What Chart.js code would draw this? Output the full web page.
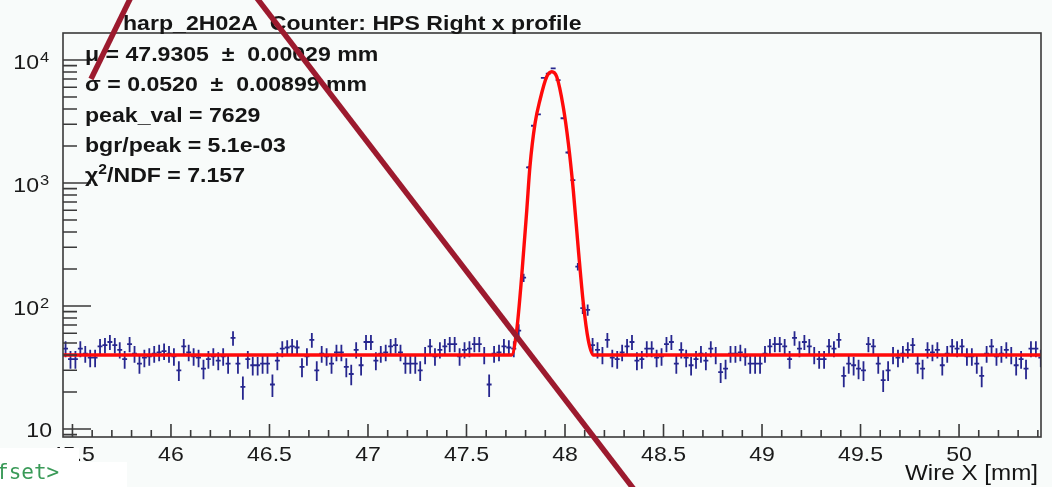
<!DOCTYPE html>
<html>
<head>
<meta charset="utf-8">
<script src="https://cdn.jsdelivr.net/npm/chart.js@4.4.1/dist/chart.umd.min.js"></script>
<style>
  body { margin: 0; background: #f8fbfa; }
  #wrap { position: relative; width: 1052px; height: 487px; overflow: hidden;
          font-family: "Liberation Sans", Arial, Helvetica, sans-serif; color: #151515; }
  #wrap canvas { position: absolute; left: 0; top: 0; }
  .txt { position: absolute; white-space: pre; line-height: 1; transform: scaleX(1.1); transform-origin: 0 0; }
  #title { left: 123px; top: 12px; font-size: 21px; font-weight: bold; }
  #stats { left: 85px; top: 39px; font-size: 21px; font-weight: bold; line-height: 30.3px; }
  #stats sup { font-size: 0.68em; line-height: 0; vertical-align: 0.55em; }
  #xtitle { left: 905px; top: 462px; font-size: 22px; }
  .mask { position: absolute; background: #ffffff; }
  #term { position: absolute; left: -4px; top: 462px; font-family: "DejaVu Sans Mono", monospace;
          font-size: 21px; color: #3a9a58; line-height: 1; }
  svg { position: absolute; left: 0; top: 0; }
</style>
</head>
<body>
<div id="wrap">
  <canvas id="harp" width="1052" height="487"></canvas>
  <div id="title" class="txt">harp_2H02A  Counter: HPS Right x profile</div>
  <div id="stats" class="txt">μ = 47.9305  ±  0.00029 mm
σ = 0.0520  ±  0.00899 mm
peak_val = 7629
bgr/peak = 5.1e-03
χ<sup>2</sup>/NDF = 7.157</div>
  <div id="xtitle" class="txt">Wire X [mm]</div>
  <div class="mask" style="left:0;top:448px;width:79px;height:14px"></div>
  <div class="mask" style="left:0;top:462px;width:127px;height:25px"></div>
  <div id="term">fset&gt;</div>
  <svg width="1052" height="487">
    <line x1="131" y1="-3" x2="91" y2="79" stroke="#9c1a2e" stroke-width="5.5"/>
    <line x1="256" y1="-3" x2="636" y2="492" stroke="#9c1a2e" stroke-width="5.5"/>
  </svg>
</div>
<script>
// histogram: counts per wire bin (bin centres start at binFirst, step binWidth)
const binFirst = 45.465;
const binWidth = 0.025;
const counts = [
  45, 37, 37, 45, 41, 38, 38, 47, 48, 51,
  48, 44, 37, 49, 41, 34, 38, 39, 41, 42,
  43, 41, 39, 30, 47, 42, 39, 38, 31, 37,
  39, 36, 39, 34, 55, 34, 22, 37, 33, 33,
  34, 34, 23, 36, 45, 46, 47, 46, 32, 39,
  53, 30, 41, 39, 34, 42, 42, 32, 28, 44,
  33, 51, 51, 36, 41, 42, 47, 48, 42, 34,
  34, 34, 30, 40, 47, 39, 44, 47, 49, 49,
  39, 44, 45, 49, 49, 40, 23, 41, 42, 47,
  46, 45, 63, 170, 1340, 2920, 3610, 7160, 7750, 8550,
  6860, 3360, 1770, 1055, 209, 96, 93, 48, 44, 40,
  53, 38, 37, 42, 47, 51, 36, 37, 45, 45,
  38, 39, 49, 51, 34, 44, 38, 33, 37, 41,
  36, 45, 40, 29, 31, 41, 41, 42, 39, 34,
  34, 34, 41, 47, 49, 49, 47, 37, 55, 45,
  51, 47, 40, 37, 37, 47, 45, 53, 27, 34,
  33, 31, 30, 49, 47, 34, 25, 30, 40, 38,
  41, 44, 48, 34, 31, 44, 42, 44, 33, 41,
  47, 45, 47, 39, 39, 34, 27, 41, 47, 39,
  41, 44, 40, 33, 37, 31, 45, 45, 38
];

// fit curve (gaus + bgr)
const fitX = [45.452, 47.729, 47.755, 47.780, 47.806, 47.822, 47.848, 47.873, 47.907, 47.933,
              47.958, 47.991, 48.017, 48.042, 48.068, 48.093, 48.118, 48.144, 50.416];
const fitY = [40, 40, 64, 173, 603, 1358, 3055, 4730, 7310, 8030,
              7310, 4170, 2100, 877, 285, 105, 53, 40, 40];

// axis ticks
const xTickValues = [45.5, 46, 46.5, 47, 47.5, 48, 48.5, 49, 49.5, 50];
const xTickLabels = ['45.5', '46', '46.5', '47', '47.5', '48', '48.5', '49', '49.5', '50'];
const yTickValues = [10, 100, 1000, 10000];
const yTickExps = ['', '2', '3', '4'];

const X_MIN = 45.452, X_MAX = 50.416;
const Y_MIN = 8.61, Y_MAX = 16580;

function wideText(ctx, str, x, y, align) {
    // ROOT text in the screenshot is a bit stretched sideways
    ctx.save();
    ctx.translate(x, y);
    ctx.scale(1.1, 1);
    ctx.textAlign = align;
    ctx.fillText(str, 0, 0);
    ctx.restore();
}

const errorBars = {
    id: 'errorBars',
    beforeDatasetsDraw(chart) {
        const { ctx, chartArea, scales: { x, y } } = chart;
        const pts = chart.data.datasets[0].data;
        ctx.save();
        ctx.beginPath();
        ctx.rect(chartArea.left, chartArea.top, chartArea.width, chartArea.height);
        ctx.clip();
        ctx.strokeStyle = '#26268e';
        ctx.lineWidth = 1.8;
        ctx.beginPath();
        pts.forEach(p => {
            const e = Math.sqrt(p.y);
            const px = x.getPixelForValue(p.x);
            const py = y.getPixelForValue(p.y);
            ctx.moveTo(x.getPixelForValue(p.x - binWidth / 2), py);
            ctx.lineTo(x.getPixelForValue(p.x + binWidth / 2), py);
            ctx.moveTo(px, y.getPixelForValue(p.y + e));
            ctx.lineTo(px, y.getPixelForValue(Math.max(p.y - e, 0.5)));
        });
        ctx.stroke();
        ctx.restore();
    }
};

const rootFrame = {
    id: 'rootFrame',
    afterDraw(chart) {
        const { ctx, chartArea: a, scales: { x, y } } = chart;
        ctx.save();
        ctx.strokeStyle = '#3a3a3a';
        ctx.fillStyle = '#1a1a1a';
        ctx.lineWidth = 1.6;
        ctx.strokeRect(a.left, a.top, a.width, a.height);

        ctx.beginPath();
        // x ticks: major every 0.5, minor every 0.1, pointing up into the frame
        for (let k = Math.ceil(X_MIN * 10); k <= Math.floor(X_MAX * 10); k++) {
            const px = x.getPixelForValue(k / 10);
            const len = (k % 5 === 0) ? 13 : 7;
            ctx.moveTo(px, a.bottom);
            ctx.lineTo(px, a.bottom - len);
        }
        // y ticks: decades long, 2..9 short
        for (let d = 0; d <= 4; d++) {
            for (let m = 1; m <= 9; m++) {
                const v = m * Math.pow(10, d);
                if (v < Y_MIN || v > Y_MAX) continue;
                const py = y.getPixelForValue(v);
                ctx.moveTo(a.left, py);
                ctx.lineTo(a.left + (m === 1 ? 28 : 14), py);
            }
        }
        ctx.stroke();

        ctx.textBaseline = 'alphabetic';
        ctx.font = '21px "Liberation Sans", Arial, sans-serif';
        xTickValues.forEach((v, i) => {
            wideText(ctx, xTickLabels[i], x.getPixelForValue(v), 461, 'center');
        });
        yTickValues.forEach((v, i) => {
            const py = y.getPixelForValue(v);
            ctx.font = '21px "Liberation Sans", Arial, sans-serif';
            if (yTickExps[i] === '') {
                wideText(ctx, '10', 52, py + 8, 'right');
            } else {
                wideText(ctx, '10', 39, py + 9, 'right');
                ctx.font = '15px "Liberation Sans", Arial, sans-serif';
                wideText(ctx, yTickExps[i], 40, py + 2, 'left');
            }
        });
        ctx.restore();
    }
};

document.addEventListener('DOMContentLoaded', function () {
    const ctx = document.getElementById('harp').getContext('2d');
    const histPoints = counts.map((n, i) => ({ x: binFirst + i * binWidth, y: n }));
    const fitPoints = fitX.map((v, i) => ({ x: v, y: fitY[i] }));

    new Chart(ctx, {
        type: 'scatter',
        data: {
            datasets: [{
                label: 'Counter',
                data: histPoints,
                pointRadius: 0,
                showLine: false
            }, {
                label: 'fit',
                data: fitPoints,
                showLine: true,
                borderColor: '#ff0a0a',
                borderWidth: 3.4,
                pointRadius: 0,
                cubicInterpolationMode: 'monotone'
            }]
        },
        options: {
            responsive: false,
            animation: false,
            devicePixelRatio: 1,
            layout: { padding: { left: 63, top: 33, right: 11, bottom: 50 } },
            scales: {
                x: { type: 'linear', min: X_MIN, max: X_MAX, display: false },
                y: { type: 'logarithmic', min: Y_MIN, max: Y_MAX, display: false }
            },
            plugins: {
                legend: { display: false },
                tooltip: { enabled: false }
            }
        },
        plugins: [errorBars, rootFrame]
    });
});
</script>
</body>
</html>
